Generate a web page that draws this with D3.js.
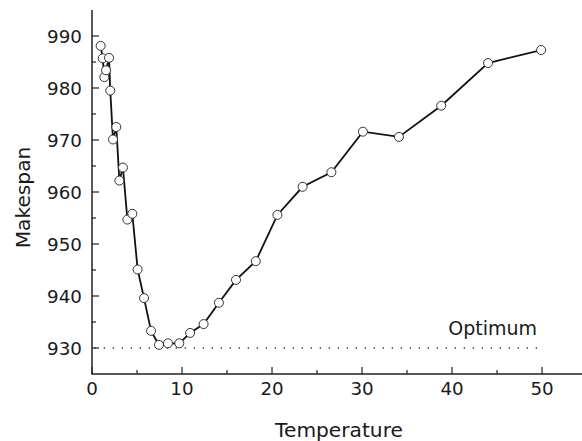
<!DOCTYPE html>
<html><head><meta charset="utf-8">
<script src="https://cdn.jsdelivr.net/npm/d3@7"></script>
<style>body{margin:0;background:#fff}svg{display:block}text{font-family:"DejaVu Sans",sans-serif;fill:#1a1a1a}</style>
</head><body><svg id="c" width="582" height="441"></svg>
<script>
const temperature = [0.96,1.19,1.37,1.56,1.89,2.03,2.33,2.7,3.04,3.44,3.93,4.48,5.07,5.78,6.56,7.44,8.44,9.7,10.9,12.4,14.1,16.0,18.2,20.6,23.4,26.6,30.1,34.1,38.8,44.0,49.9];
const makespan = [988.1,985.7,982.1,983.4,985.8,979.5,970.1,972.5,962.2,964.7,954.7,955.8,945.1,939.6,933.3,930.6,930.9,930.9,932.9,934.6,938.7,943.1,946.7,955.6,961.0,963.8,971.6,970.6,976.6,984.8,987.3];
const optimum = 930;
const xTicks = [0,10,20,30,40,50];
const yTicks = [930,940,950,960,970,980,990];

const svg = d3.select("#c");
const x = d3.scaleLinear().domain([0,54.44]).range([92,582]);
const y = d3.scaleLinear().domain([925,995]).range([374,10]);

const g = svg.append("g");
g.append("line").attr("x1",92).attr("x2",92).attr("y1",y(995)).attr("y2",y(925)).attr("stroke","#222").attr("stroke-width",1.5);
g.append("line").attr("x1",91.25).attr("x2",582).attr("y1",y(925)).attr("y2",y(925)).attr("stroke","#222").attr("stroke-width",1.5);

d3.range(0,55,5).forEach(t=>{
  const major = t%10===0;
  g.append("line").attr("x1",x(t)).attr("x2",x(t)).attr("y1",y(925)).attr("y2",y(925)-(major?7:4)).attr("stroke","#222").attr("stroke-width",1.2);
});
xTicks.forEach(t=>{
  g.append("text").attr("x",x(t)).attr("y",395).attr("text-anchor","middle").attr("font-size",18.3).text(t);
});
d3.range(930,995,5).forEach(v=>{
  const major = v%10===0;
  g.append("line").attr("x1",92).attr("x2",92+(major?7:4)).attr("y1",y(v)).attr("y2",y(v)).attr("stroke","#222").attr("stroke-width",1.2);
});
yTicks.forEach(v=>{
  g.append("text").attr("x",82).attr("y",y(v)+6.7).attr("text-anchor","end").attr("font-size",18.3).text(v);
});

svg.append("text").attr("x",339).attr("y",436.5).attr("text-anchor","middle").attr("font-size",20.2).text("Temperature");
svg.append("text").attr("transform","translate(30,197.5) rotate(-90)").attr("text-anchor","middle").attr("font-size",20.2).text("Makespan");

svg.append("line").attr("x1",x(0.3)).attr("x2",x(50)).attr("y1",y(optimum)).attr("y2",y(optimum))
  .attr("stroke","#333").attr("stroke-width",1.3).attr("stroke-dasharray","1.3,7.7");
svg.append("text").attr("x",537).attr("y",334.5).attr("text-anchor","end").attr("font-size",19).text("Optimum");

const pts = temperature.map((t,i)=>[t,makespan[i]]);
svg.append("path").datum(pts).attr("fill","none").attr("stroke","#111").attr("stroke-width",1.8)
  .attr("d",d3.line().x(d=>x(d[0])).y(d=>y(d[1])));
svg.selectAll("circle.p").data(pts).join("circle").attr("class","p")
  .attr("cx",d=>x(d[0])).attr("cy",d=>y(d[1])).attr("r",4.5)
  .attr("fill","#fff").attr("stroke","#333").attr("stroke-width",1);
</script></body></html>
